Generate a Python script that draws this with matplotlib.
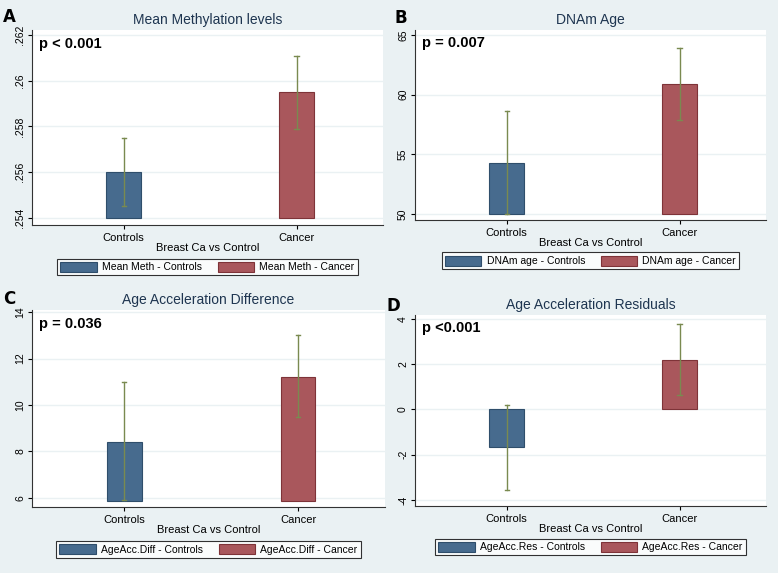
import numpy as np
import matplotlib.pyplot as plt
from matplotlib.ticker import FuncFormatter

plt.rcParams['font.family'] = ['Liberation Sans', 'DejaVu Sans']

# данные
groups = ['Controls', 'Cancer']

meth_mean = [0.2560, 0.2595]
meth_lo = [0.2545, 0.2579]
meth_hi = [0.2575, 0.2611]

age_mean = [54.3, 60.9]
age_lo = [50.0, 57.9]
age_hi = [58.6, 63.9]

diff_mean = [8.4, 11.2]
diff_lo = [5.9, 9.5]
diff_hi = [11.0, 13.0]

res_mean = [-1.65, 2.2]
res_lo = [-3.55, 0.65]
res_hi = [0.2, 3.8]

bg = '#eaf1f3'
c_blue = '#476b8e'
c_red = '#a9575c'
c_err = '#7a8a50'

W, H = 778, 573
fig = plt.figure(figsize=(W / 100, H / 100), dpi=100, facecolor=bg)


def px_axes(x0, y0, x1, y1):
    return fig.add_axes([x0 / W, 1 - y1 / H, (x1 - x0) / W, (y1 - y0) / H])


panels = [
    dict(box=(32, 30, 383, 225), letter='A', lpos=(3, 8), title='Mean Methylation levels',
         p='p < 0.001', mean=meth_mean, lo=meth_lo, hi=meth_hi, base=0.254,
         ylim=(0.25369, 0.26222), ticks=[0.254, 0.256, 0.258, 0.260, 0.262],
         fmt=lambda v, _: ('%.3f' % v).lstrip('0').rstrip('0'),
         leg=['Mean Meth - Controls', 'Mean Meth - Cancer']),
    dict(box=(415, 30, 766, 220), letter='B', lpos=(395, 9), title='DNAm Age',
         p='p = 0.007', mean=age_mean, lo=age_lo, hi=age_hi, base=50,
         ylim=(49.5, 65.4), ticks=[50, 55, 60, 65],
         fmt=lambda v, _: '%d' % v,
         leg=['DNAm age - Controls', 'DNAm age - Cancer']),
    dict(box=(32, 310, 385, 507), letter='C', lpos=(3, 290), title='Age Acceleration Difference',
         p='p = 0.036', mean=diff_mean, lo=diff_lo, hi=diff_hi, base=5.87,
         ylim=(5.61, 14.09), ticks=[6, 8, 10, 12, 14],
         fmt=lambda v, _: '%d' % v,
         leg=['AgeAcc.Diff - Controls', 'AgeAcc.Diff - Cancer']),
    dict(box=(415, 315, 766, 506), letter='D', lpos=(387, 297), title='Age Acceleration Residuals',
         p='p <0.001', mean=res_mean, lo=res_lo, hi=res_hi, base=0,
         ylim=(-4.27, 4.18), ticks=[-4, -2, 0, 2, 4],
         fmt=lambda v, _: '%d' % v,
         leg=['AgeAcc.Res - Controls', 'AgeAcc.Res - Cancer']),
]

x = np.arange(len(groups))

for pn in panels:
    x0, y0, x1, y1 = pn['box']
    ax = px_axes(x0, y0, x1, y1)
    ax.set_facecolor('white')
    mean = np.array(pn['mean'])
    heights = mean - pn['base']
    bars = ax.bar(x, heights, bottom=pn['base'], width=0.2,
                  color=[c_blue, c_red], edgecolor=['#2f4e6b', '#7e3338'], linewidth=0.8,
                  zorder=2)
    for i in range(len(groups)):
        ax.plot([x[i], x[i]], [pn['lo'][i], pn['hi'][i]], color=c_err, lw=1.0, zorder=3)
        for yy in (pn['lo'][i], pn['hi'][i]):
            ax.plot([x[i] - 0.012, x[i] + 0.012], [yy, yy], color=c_err, lw=1.0, zorder=3)
    ax.set_xlim(-0.53, 1.50)
    ax.set_ylim(*pn['ylim'])
    ax.set_yticks(pn['ticks'])
    ax.yaxis.set_major_formatter(FuncFormatter(pn['fmt']))
    for lab in ax.get_yticklabels():
        lab.set_rotation(90)
        lab.set_va('center')
    ax.grid(axis='y', color=bg, lw=1.0, zorder=0)
    ax.set_axisbelow(True)
    ax.set_xticks(x)
    ax.set_xticklabels(groups, fontsize=8)
    ax.tick_params(axis='y', labelsize=7.5, length=3, width=0.8, pad=2)
    ax.tick_params(axis='x', length=3, width=0.8, pad=3)
    ax.set_xlabel('Breast Ca vs Control', fontsize=8, labelpad=0)
    for s in ('top', 'right'):
        ax.spines[s].set_visible(False)
    for s in ('left', 'bottom'):
        ax.spines[s].set_color('#333333')
        ax.spines[s].set_linewidth(0.8)
    ax.set_title(pn['title'], fontsize=10, color='#1e3550', pad=4)
    ax.text(0.02, 0.93, pn['p'], transform=ax.transAxes, fontsize=10.5,
            fontweight='bold', va='center', ha='left')
    fig.text(pn['lpos'][0] / W, 1 - pn['lpos'][1] / H, pn['letter'], fontsize=12,
             fontweight='bold', va='top', ha='left', family='DejaVu Sans')
    leg = ax.legend(bars, pn['leg'], loc='center', bbox_to_anchor=(0.5, -0.215),
                    ncol=2, fontsize=7.5, frameon=True, fancybox=False,
                    handlelength=3.5, handleheight=1.1, columnspacing=1.5,
                    borderpad=0.3, handletextpad=0.5, edgecolor='black')
    leg.get_frame().set_linewidth(0.8)

fig.savefig('out.png', dpi=100, facecolor=bg)
